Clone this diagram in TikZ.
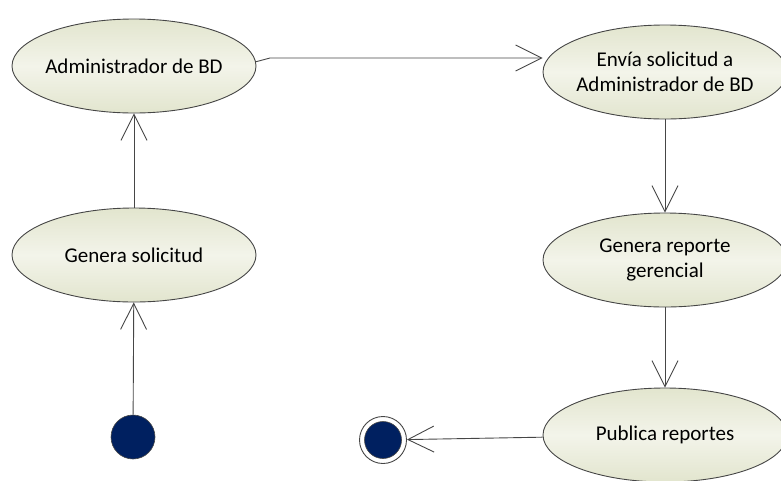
\documentclass[tikz,border=0pt]{standalone}
\usepackage{fontspec}
\setmainfont{Carlito}
\usetikzlibrary{shapes.geometric,arrows.meta}

\definecolor{navy}{RGB}{0,32,96}
\definecolor{caseedge}{RGB}{70,70,70}
\definecolor{caseout}{RGB}{226,229,206}
\definecolor{casein}{RGB}{243,244,234}

\tikzset{
    usecase/.style={ellipse, draw=caseedge, line width=0.9pt,
        top color=caseout, bottom color=caseout, middle color=casein,
        minimum width=244pt, minimum height=94pt, inner xsep=-8pt, inner ysep=0pt,
        align=center, font=\fontsize{21}{25}\selectfont},
    flow/.style={draw=caseedge, line width=0.9pt,
        -{Straight Barb[length=26pt,width=26pt,line width=0.9pt]}}
}

\begin{document}
\begin{tikzpicture}[x=1pt,y=-1pt]
    \useasboundingbox (0,0) rectangle (781,480);

    % Use cases
    \node[usecase] (admin)   at (134,66)  {Administrador de BD};
    \node[usecase] (gensol)  at (134,255) {Genera solicitud};
    \node[usecase] (envia)   at (665,72)  {Envía solicitud a\\Administrador de BD};
    \node[usecase] (genrep)  at (665,260) {Genera reporte\\gerencial};
    \node[usecase] (publica) at (665,435) {Publica reportes};

    % Start and end
    \node[circle, fill=navy, draw=caseedge, line width=0.6pt, minimum size=44pt, inner sep=0pt] (start) at (133,437) {};
    \node[circle, draw=caseedge, fill=white, line width=0.9pt, minimum size=47pt, inner sep=0pt] (stop) at (383,440) {};
    \node[circle, fill=navy, draw=caseedge, line width=0.6pt, minimum size=37pt, inner sep=0pt] (stopin) at (stop) {};

    % Bend point
    \coordinate (bend) at (270,58);

    % Flows
    \draw[flow] (start) -- (gensol);
    \draw[flow] (gensol) -- (admin);
    \draw[flow] (admin.2) -- (bend) -- (envia.west |- bend);
    \draw[flow] (envia) -- (genrep);
    \draw[flow] (genrep) -- (publica);
    \draw[flow] (publica) -- (stop);
\end{tikzpicture}
\end{document}
